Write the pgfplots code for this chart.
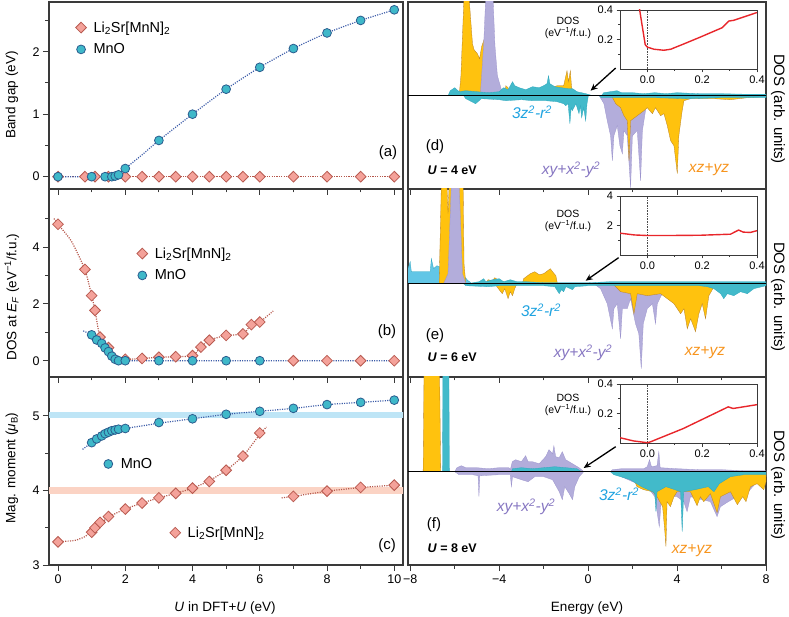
\documentclass[border=0pt]{standalone}
\usepackage{fontspec}
\setmainfont{Liberation Sans}
\usepackage{pgfplots}
\pgfplotsset{compat=1.18}
\usetikzlibrary{arrows.meta}

\definecolor{cFrame}{HTML}{3A3A3A}
\definecolor{cDia}{HTML}{F4A29A}
\definecolor{cDiaE}{HTML}{B85A50}
\definecolor{cCir}{HTML}{3FB8C9}
\definecolor{cCirE}{HTML}{2B5C8E}
\definecolor{cLi}{HTML}{B5574B}
\definecolor{cMn}{HTML}{3C5CA8}
\definecolor{cBandB}{HTML}{BEE5F6}
\definecolor{cBandR}{HTML}{FBD3C4}
\definecolor{cGold}{HTML}{FFC20E}
\definecolor{cGoldE}{HTML}{B7802A}
\definecolor{cLav}{HTML}{B3ADDB}
\definecolor{cLavE}{HTML}{9C94CC}
\definecolor{cTeal}{HTML}{42BACA}
\definecolor{cTealE}{HTML}{2FA6BD}
\definecolor{cSky}{HTML}{62C6E6}
\definecolor{tZ}{HTML}{1FA3E0}
\definecolor{tXY}{HTML}{8777C2}
\definecolor{tXZ}{HTML}{F7941D}
\definecolor{cRed}{HTML}{E8262B}

\newcommand{\lisr}{Li\textsubscript{2}Sr[MnN]\textsubscript{2}}

\pgfplotsset{
  panel/.style={
    scale only axis, anchor=south west,
    axis line style={line width=1.1pt, color=cFrame},
    tick align=outside, xtick pos=bottom, ytick pos=left,
    major tick length=6pt, minor tick length=3.5pt,
    tick style={line width=0.9pt, color=cFrame},
    tick label style={font=\fontsize{12.5}{14}\selectfont},
    /pgf/number format/assume math mode=true,
  },
  left panel/.style={panel, width=354pt, xmin=-0.268, xmax=10.26,
    xtick={0,2,...,10}, minor xtick={1,3,...,9},
    legend cell align=left,
    legend image code/.code={\path[draw=none, fill=none] (0pt,-1pt) rectangle (19pt,1pt); \draw[##1] plot coordinates {(8.5pt,0pt)};},
    legend style={draw=none, fill=none, font=\fontsize{14.5}{16}\selectfont,
      anchor=north west, row sep=6pt, inner sep=0pt},
  },
  right panel/.style={panel, width=358pt, xmin=-8.1, xmax=8,
    xtick={-8,-4,0,4,8}, minor xtick={-6,-2,2,6}, ytick=\empty},
  inset/.style={scale only axis, anchor=south west, width=137pt, height=59pt,
    xmin=-0.1, xmax=0.4, ymin=0, xtick={0,0.2,0.4}, minor xtick={0.1,0.3},
    tick align=outside, xtick pos=bottom, ytick pos=left,
    axis line style={line width=0.8pt, color=cFrame},
    tick style={line width=0.7pt, color=cFrame},
    major tick length=3.5pt, minor tick length=2pt,
    tick label style={font=\fontsize{11}{12}\selectfont},
    /pgf/number format/assume math mode=true,
    xticklabel style={/pgf/number format/fixed, /pgf/number format/fixed zerofill, /pgf/number format/precision=1},
  },
  fitline/.style={line width=1.2pt, dash pattern=on 1.1pt off 1.3pt},
  dia/.style={only marks, mark=square*, mark size=3.8pt,
    mark options={rotate=45, fill=cDia, draw=cDiaE, line width=0.8pt}},
  cir/.style={only marks, mark=*, mark size=4.4pt,
    mark options={fill=cCir, draw=cCirE, line width=0.8pt}},
  gold/.style={fill=cGold, draw=cGoldE, line width=0.3pt},
  lav/.style={fill=cLav, draw=cLavE, line width=0.3pt},
  teal/.style={fill=cTeal, draw=cTealE, line width=0.3pt},
}

\begin{document}
\begin{tikzpicture}
\useasboundingbox (0pt,0pt) rectangle (789pt,616pt);

% ---------- (a) band gap
\begin{axis}[left panel, at={(49pt,427pt)}, height=187pt,
  ymin=-0.197, ymax=2.795, ytick={0,1,2}, minor ytick={0.5,1.5,2.5},
  xticklabels={}, legend style={at={(0.066,0.907)}}]
\addplot[cLi, fitline, forget plot] coordinates {(0,0) (10,0)};
\addplot[cMn, fitline, smooth, tension=0.4, forget plot] coordinates {(0,0) (1,0) (1.5,0) (1.7,0.01) (1.8,0.035) (2,0.13) (2.5,0.35) (3,0.58) (4,1.0) (5,1.4) (6,1.75) (7,2.05) (8,2.3) (9,2.5) (10,2.67)};
\addplot[dia] coordinates {(0,0) (0.8,0) (1.1,0) (1.5,0) (2,0) (2.5,0) (3,0) (3.5,0) (4,0) (4.5,0) (5,0) (5.5,0) (6,0) (7,0) (8,0) (9,0) (10,0)};
\addlegendentry{\lisr}
\addplot[cir] coordinates {(0,0) (1,0) (1.4,0) (1.6,0) (1.7,0.01) (1.8,0.03) (2,0.13) (3,0.58) (4,1.0) (5,1.4) (6,1.75) (7,2.05) (8,2.3) (9,2.5) (10,2.67)};
\addlegendentry{MnO}
\end{axis}

% ---------- (b) DOS at E_F
\begin{axis}[left panel, at={(49pt,239pt)}, height=188pt,
  ymin=-0.573, ymax=6.04, ytick={0,2,4}, minor ytick={1,3,5},
  xticklabels={}, legend style={at={(0.239,0.70)}}]
\addplot[cMn, fitline, smooth, tension=0.4, forget plot] coordinates {(0.75,1.05) (1,0.91) (1.15,0.73) (1.3,0.6) (1.45,0.42) (1.55,0.28) (1.65,0.12) (1.75,0.03) (1.9,0) (3,0) (5,0) (7,0) (10,0)};
\addplot[cLi, fitline, smooth, tension=0.4, forget plot] coordinates {(-0.12,5.0) (0,4.8) (0.4,4.2) (0.8,3.2) (1,2.3) (1.1,1.77) (1.25,0.83) (1.5,0.46) (1.75,0.18) (2,0.05) (2.5,0.08) (3,0.12) (3.5,0.14) (4,0.18) (4.25,0.48) (4.5,0.72) (5,0.89) (5.5,0.94) (5.75,1.27) (6,1.36) (6.4,1.75)};
\addplot[dia] coordinates {(0,4.8) (0.8,3.21) (1,2.29) (1.1,1.77) (1.25,0.83) (1.5,0.46) (2,0.05) (2.5,0.08) (3,0.12) (3.5,0.14) (4,0.18) (4.25,0.48) (4.5,0.72) (5,0.89) (5.5,0.94) (5.75,1.27) (6,1.36) (7,0) (8,0) (9,0) (10,0)};
\addlegendentry{\lisr}
\addplot[cir] coordinates {(1,0.91) (1.15,0.73) (1.3,0.61) (1.4,0.45) (1.5,0.32) (1.6,0.16) (1.7,0.05) (1.8,0) (2,0) (3,0) (4,0) (5,0) (6,0)};
\addlegendentry{MnO}
\end{axis}

% ---------- (c) magnetic moment
\begin{axis}[left panel, at={(49pt,51pt)}, height=188pt,
  ymin=3, ymax=5.52, ytick={3,4,5}, minor ytick={3.5,4.5},
  legend style={at={(0.143,0.58)}}]
\addplot[fill=cBandB, draw=none, forget plot] coordinates {(-0.3,4.965) (10.3,4.965) (10.3,5.055) (-0.3,5.055)} -- cycle;
\addplot[fill=cBandR, draw=none, forget plot] coordinates {(-0.3,3.955) (10.3,3.955) (10.3,4.045) (-0.3,4.045)} -- cycle;
\addplot[cMn, fitline, smooth, tension=0.4, forget plot] coordinates {(0.73,4.55) (1,4.64) (1.2,4.71) (1.5,4.78) (1.8,4.82) (2,4.83) (3,4.9) (4,4.96) (5,5.02) (6,5.06) (7,5.1) (8,5.15) (9,5.18) (10,5.21)};
\addplot[cLi, fitline, smooth, tension=0.4, forget plot] coordinates {(0,3.31) (0.5,3.33) (0.8,3.38) (1,3.45) (1.5,3.64) (2,3.75) (2.5,3.83) (3,3.9) (3.5,3.96) (4,4.03) (4.5,4.13) (5,4.27) (5.5,4.46) (6,4.75) (6.2,4.85)};
\addplot[cLi, fitline, forget plot] coordinates {(6.65,3.9) (7,3.92) (8,3.99) (9,4.04) (10,4.07)};
\addplot[dia, forget plot] coordinates {(0,3.31) (1,3.44) (1.1,3.5) (1.25,3.57) (1.5,3.65) (2,3.75) (2.5,3.83) (3,3.9) (3.5,3.96) (4,4.03) (4.5,4.12) (5,4.27) (5.5,4.46) (6,4.77) (7,3.92) (8,3.99) (9,4.04) (10,4.07)};
\addplot[cir] coordinates {(1,4.64) (1.15,4.69) (1.3,4.73) (1.4,4.76) (1.5,4.78) (1.6,4.8) (1.7,4.81) (1.8,4.82) (2,4.83) (3,4.91) (4,4.96) (5,5.02) (6,5.06) (7,5.1) (8,5.15) (9,5.18) (10,5.21)};
\addlegendentry{MnO}
\end{axis}
\begin{axis}[left panel, at={(49pt,51pt)}, height=188pt, ymin=3, ymax=5.52,
  hide axis, legend style={at={(0.332,0.215)}}]
\addlegendimage{dia}
\addlegendentry{\lisr}
\end{axis}

% ---------- (d) U = 4 eV
\begin{axis}[right panel, at={(408pt,427pt)}, height=187pt, ymin=-93.3, ymax=93.7, xticklabels={}]
\addplot[lav] coordinates {(0.5,0) (0.71,-8) (0.86,-25) (1.01,-40) (1.09,-65) (1.16,-40) (1.31,-30) (1.43,-50) (1.54,-58) (1.61,-35) (1.76,-40) (1.91,-92) (1.99,-40) (2.21,-35) (2.36,-85) (2.44,-35) (2.58,-15) (2.7,-3) (3.0,0)} -- cycle;
\addplot[gold] coordinates {(1.05,0) (1.24,-8) (1.46,-12) (1.61,-20) (1.76,-25) (1.84,-65) (1.91,-25) (2.21,-20) (2.51,-15) (2.66,-12) (2.89,-18) (3.03,-12) (3.26,-20) (3.41,-18) (3.56,-30) (3.71,-45) (3.86,-50) (4.01,-78) (4.08,-40) (4.23,-15) (4.31,-5) (4.61,-3) (5.66,-3) (6.4,-4) (7.16,-2) (8,-1) (8,0)} -- cycle;
\addplot[gold] coordinates {(-5.8,0) (-5.72,20) (-5.65,60) (-5.58,100) (-5.36,100) (-5.28,76) (-5.2,52) (-5.13,46) (-4.98,42) (-4.88,37) (-4.79,49) (-4.68,56) (-4.6,58) (-4.5,20) (-4.4,0) (-3.75,0) (-3.7,10) (-3.6,8) (-3.53,0) (-1.65,0) (-1.6,8) (-1.4,10) (-1.1,10) (-0.95,25) (-0.88,14) (-0.8,25) (-0.75,10) (-0.68,0)} -- cycle;
\addplot[lav] coordinates {(-4.85,0) (-4.7,50) (-4.6,100) (-4.28,100) (-4.19,50) (-4.08,20) (-3.86,3) (-3.7,0)} -- cycle;
\addplot[teal] coordinates {(-5.6,0) (-5.5,-3) (-5.06,-8) (-4.8,-3) (-4.0,-4) (-3.71,-5) (-3.0,-4) (-2.5,-5) (-1.91,-5) (-1.4,-6) (-1.1,-8) (-1.01,-10) (-0.9,-8) (-0.82,-28) (-0.76,-12) (-0.71,-15) (-0.55,-8) (-0.41,-18) (-0.35,-10) (-0.29,-22) (-0.2,-12) (-0.11,-25) (-0.05,-8) (0.01,0) (0.5,0) (0.6,-2) (1.0,-2) (2,-2) (3,-2) (4.5,-3) (6,-2) (8,-2) (8,0)} -- cycle;
\addplot[teal] coordinates {(-6.3,0) (-6.2,5) (-6.0,8) (-5.8,4) (-5.5,5) (-5.0,4) (-4.5,3) (-4.0,4) (-3.8,8) (-3.6,6) (-3.4,14) (-3.3,10) (-3.1,8) (-2.8,6) (-2.5,9) (-2.2,8) (-2.0,10) (-1.85,12) (-1.78,20) (-1.72,12) (-1.5,9) (-1.2,8) (-0.9,7) (-0.7,7) (-0.5,4) (-0.3,3) (-0.1,2) (0.2,0) (0.6,0) (0.7,3) (1.0,4) (1.3,5) (1.5,3) (2.0,3) (2.5,2) (3.0,3) (3.5,2) (4.0,3) (5.0,2) (6.0,2) (7.0,1.5) (8.0,1.5) (8,0)} -- cycle;
\addplot[black, line width=0.8pt] coordinates {(-8.1,0) (8,0)};
\draw[-{Stealth[length=7pt,width=6pt]}, line width=1.3pt] (axis cs:1.24,27.7) -- (axis cs:0.11,5);
\end{axis}

% ---------- (e) U = 6 eV
\begin{axis}[right panel, at={(408pt,239pt)}, height=188pt, ymin=-93.3, ymax=94.7, xticklabels={}]
\addplot[lav] coordinates {(0.26,0) (0.56,-5) (0.86,-20) (1.09,-45) (1.16,-25) (1.31,-20) (1.46,-55) (1.54,-25) (1.76,-25) (1.91,-15) (2.13,-40) (2.28,-50) (2.39,-85) (2.48,-40) (2.66,-25) (2.89,-20) (3.03,-40) (3.11,-20) (3.33,-10) (3.56,0)} -- cycle;
\addplot[gold] coordinates {(-4.2,0) (-4.0,-6) (-3.86,-10) (-3.75,-5) (-3.6,-15) (-3.5,-8) (-3.4,-12) (-3.3,-5) (-3.2,0) (1.1,0) (1.46,-8) (1.91,-10) (2.06,-30) (2.21,-10) (2.66,-12) (3.26,-10) (3.56,-15) (3.86,-20) (4.16,-30) (4.31,-25) (4.46,-45) (4.61,-35) (4.83,-48) (4.98,-30) (5.13,-20) (5.28,-35) (5.43,-12) (5.66,-3) (6.4,-2) (7.16,-2) (8,0)} -- cycle;
\addplot[fill=cSky, draw=cTealE, line width=0.3pt] coordinates {(-8.1,0) (-8.1,15) (-8.0,22) (-7.95,12) (-7.1,12) (-7.05,25) (-6.95,15) (-6.8,18) (-6.6,16) (-6.3,14) (-6.0,10) (-5.6,8) (-5.4,3) (-5.2,0)} -- cycle;
\addplot[gold] coordinates {(-6.7,0) (-6.6,100) (-6.35,100) (-6.3,70) (-6.25,100) (-5.62,100) (-5.58,20) (-5.5,0) (-4.6,0) (-4.5,4) (-4.3,3) (-4.2,6) (-4.0,3) (-3.5,0) (-2.96,0) (-2.9,5) (-2.6,10) (-2.4,12) (-2.2,9) (-2.0,10) (-1.7,15) (-1.6,12) (-1.45,8) (-1.38,0)} -- cycle;
\addplot[lav] coordinates {(-6.5,0) (-6.3,10) (-6.15,100) (-5.8,100) (-5.65,10) (-5.5,0)} -- cycle;
\addplot[teal] coordinates {(-5.6,0) (-5.5,-2) (-4.5,-3) (-4.0,-2) (-3,-2) (-2,-2) (-1.5,-3) (-1.3,-10) (-1.2,-6) (-1.1,-8) (-1.0,-3) (-0.7,-6) (-0.6,-3) (0,-2) (1,-2) (3,-2) (5,-2) (5.36,-3) (5.66,-5) (5.96,-10) (6.1,-15) (6.26,-10) (6.55,-12) (6.85,-8) (7.16,-10) (7.45,-5) (8,-2) (8,0)} -- cycle;
\addplot[teal] coordinates {(-5.2,0) (-5.2,1) (-4.9,2) (-4.7,5) (-4.6,2) (-4.3,4) (-4.0,5) (-3.8,2) (-3.5,4) (-3.2,2) (-2.8,2) (-2,1) (-1,1) (0,1) (1,2) (2,2) (3,2) (4,2) (5,2) (6,2) (7,2) (8,2) (8,0)} -- cycle;
\addplot[black, line width=0.8pt] coordinates {(-8.1,0) (8,0)};
\draw[-{Stealth[length=7pt,width=6pt]}, line width=1.3pt] (axis cs:1.37,26) -- (axis cs:-0.11,3);
\end{axis}

% ---------- (f) U = 8 eV
\begin{axis}[right panel, at={(408pt,51pt)}, height=188pt, ymin=-93.3, ymax=94.7,
  xticklabels={−8,−4,0,4,8}]
\addplot[lav] coordinates {(-6.0,0) (-5.8,-3) (-5.2,-3) (-4.95,-4) (-4.91,-25) (-4.87,-4) (-4.0,-3) (-3.5,-3) (-3.45,-15) (-3.4,-5) (-3.0,-8) (-2.7,-10) (-2.4,-5) (-2.0,-5) (-1.6,-8) (-1.3,-20) (-1.16,-28) (-1.05,-15) (-0.85,-22) (-0.7,-28) (-0.6,-15) (-0.4,-5) (-0.2,0) (1.09,0) (1.5,-5) (2.0,-10) (2.66,-15) (3.0,-25) (3.2,-55) (3.3,-25) (4.0,-25) (4.3,-30) (4.45,-40) (4.6,-25) (5.5,-30) (5.8,-45) (5.95,-35) (6.3,-30) (6.7,-25) (7.2,-20) (7.6,-10) (8.0,-5) (8,0)} -- cycle;
\addplot[gold] coordinates {(1.9,0) (2.06,-8) (2.2,-15) (2.5,-18) (2.9,-20) (3.1,-25) (3.35,-35) (3.45,-60) (3.5,-75) (3.55,-30) (3.7,-35) (3.86,-25) (4.0,-20) (4.6,-20) (4.9,-34) (5.05,-25) (5.2,-30) (5.5,-22) (5.8,-41) (5.95,-25) (6.4,-20) (6.71,-33) (6.95,-25) (7.1,-30) (7.3,-15) (7.6,-12) (7.9,-18) (8.0,-10) (8,0)} -- cycle;
\addplot[gold] coordinates {(-7.42,0) (-7.38,100) (-6.68,100) (-6.63,0)} -- cycle;
\addplot[lav] coordinates {(-6.0,0) (-5.9,4) (-5.7,6) (-5.5,4) (-5.0,4) (-4.5,3) (-4.0,4) (-3.56,4) (-3.5,2) (-3.41,10) (-3.26,12) (-3.0,10) (-2.81,16) (-2.7,10) (-2.51,10) (-2.2,8) (-1.91,15) (-1.76,22) (-1.6,18) (-1.54,26) (-1.46,15) (-1.3,14) (-1.16,20) (-1.01,12) (-0.71,8) (-0.41,4) (-0.19,0) (1.0,0) (1.09,2) (1.5,3) (2.0,3) (2.5,3) (2.66,5) (2.76,12) (2.85,5) (3.1,6) (3.18,20) (3.24,4) (4,3) (5,2) (6,2) (7,1) (8,1) (8,0)} -- cycle;
\addplot[teal] coordinates {(1.0,0) (1.16,-3) (1.46,-5) (1.9,-8) (2.4,-15) (2.9,-20) (3.0,-22) (3.05,-40) (3.1,-20) (3.5,-15) (3.9,-18) (4.16,-20) (4.23,-60) (4.3,-20) (4.8,-18) (5.4,-15) (5.66,-20) (5.9,-12) (6.4,-5) (7,-3) (8,-3) (8,0)} -- cycle;
\addplot[teal] coordinates {(-6.55,0) (-6.53,100) (-6.26,100) (-6.24,0) (-3.45,0) (-3.4,3) (-3,4) (-2.5,3) (-2,4) (-1.5,5) (-1,4) (-0.5,3) (-0.3,0)} -- cycle;
\addplot[black, line width=0.8pt] coordinates {(-8.1,0) (8,0)};
\draw[-{Stealth[length=7pt,width=6pt]}, line width=1.3pt] (axis cs:1.24,25) -- (axis cs:-0.2,3.7);
\end{axis}

% ---------- insets
\begin{axis}[inset, at={(620pt,547pt)}, ymax=0.4, ytick={0.2,0.4}, minor ytick={0.1,0.3},
  yticklabel style={/pgf/number format/fixed, /pgf/number format/fixed zerofill, /pgf/number format/precision=1}]
\addplot[black!70, densely dotted, line width=0.6pt] coordinates {(0,0) (0,0.4)};
\addplot[cRed, line width=1.4pt] coordinates {(-0.03,0.42) (-0.008,0.165) (0,0.148) (0.024,0.134) (0.06,0.127) (0.085,0.134) (0.133,0.17) (0.194,0.217) (0.273,0.28) (0.297,0.325) (0.315,0.33) (0.4,0.383)};
\end{axis}
\begin{axis}[inset, at={(620pt,361pt)}, ymax=4, ytick={2,4}, minor ytick={1,3}]
\addplot[black!70, densely dotted, line width=0.6pt] coordinates {(0,0) (0,4)};
\addplot[cRed, line width=1.4pt] coordinates {(-0.1,1.48) (-0.048,1.36) (0,1.32) (0.073,1.32) (0.194,1.34) (0.303,1.41) (0.333,1.69) (0.35,1.55) (0.376,1.53) (0.4,1.65)};
\end{axis}
\begin{axis}[inset, at={(620pt,173pt)}, ymax=0.4, ytick={0.2,0.4}, minor ytick={0.1,0.3},
  yticklabel style={/pgf/number format/fixed, /pgf/number format/fixed zerofill, /pgf/number format/precision=1}]
\addplot[black!70, densely dotted, line width=0.6pt] coordinates {(0,0) (0,0.4)};
\addplot[cRed, line width=1.4pt] coordinates {(-0.1,0.036) (-0.051,0.014) (0,0.002) (0.01,0.007) (0.131,0.098) (0.295,0.245) (0.313,0.234) (0.4,0.26)};
\end{axis}

% ---------- texts
\begin{scope}[every node/.style={font=\fontsize{10.5}{12}\selectfont, align=center}]
\node at (568pt,588.5pt) {DOS\\(eV\textsuperscript{−1}/f.u.)};
\node at (568pt,395.5pt) {DOS\\(eV\textsuperscript{−1}/f.u.)};
\node at (568pt,211.5pt) {DOS\\(eV\textsuperscript{−1}/f.u.)};
\end{scope}

\begin{scope}[every node/.style={font=\fontsize{13.5}{15}\selectfont}]
\node[rotate=90] at (12pt,521pt) {Band gap (eV)};
\node[rotate=90] at (12pt,319pt) {DOS at \textit{E}\textsubscript{\textit{F}} (eV\textsuperscript{−1}/f.u.)};
\node[rotate=90] at (12pt,148pt) {Mag. moment (\textit{μ}\textsubscript{B})};
\node at (225pt,8pt) {\textit{U} in DFT+\textit{U} (eV)};
\node at (587pt,8pt) {Energy (eV)};
\end{scope}
\begin{scope}[every node/.style={font=\fontsize{15}{17}\selectfont, rotate=-90}]
\node at (778pt,507pt) {DOS (arb. units)};
\node at (778pt,319pt) {DOS (arb. units)};
\node at (778pt,131pt) {DOS (arb. units)};
\end{scope}

\begin{scope}[every node/.style={font=\fontsize{15}{17}\selectfont}]
\node at (388pt,463pt) {(a)};
\node at (387pt,284pt) {(b)};
\node at (387pt,70pt) {(c)};
\node at (435pt,469pt) {(d)};
\node at (435pt,280pt) {(e)};
\node at (434pt,91pt) {(f)};
\end{scope}

\begin{scope}[every node/.style={font=\fontsize{12.5}{14}\selectfont\bfseries, anchor=west}]
\node at (424pt,446pt) {\textit{U} = 4 eV};
\node at (424pt,259pt) {\textit{U} = 6 eV};
\node at (424pt,68pt) {\textit{U} = 8 eV};
\end{scope}

\begin{scope}[every node/.style={font=\fontsize{15.5}{17}\selectfont\itshape}]
\node[text=tZ] at (532pt,504pt) {3z\textsuperscript{2}-r\textsuperscript{2}};
\node[text=tXY] at (571pt,446pt) {xy+x\textsuperscript{2}-y\textsuperscript{2}};
\node[text=tXZ] at (709pt,446pt) {xz+yz};
\node[text=tZ] at (541pt,306pt) {3z\textsuperscript{2}-r\textsuperscript{2}};
\node[text=tXY] at (583pt,263pt) {xy+x\textsuperscript{2}-y\textsuperscript{2}};
\node[text=tXZ] at (705pt,263pt) {xz+yz};
\node[text=tXY] at (526pt,109pt) {xy+x\textsuperscript{2}-y\textsuperscript{2}};
\node[text=tZ] at (619pt,122pt) {3z\textsuperscript{2}-r\textsuperscript{2}};
\node[text=tXZ] at (692pt,65pt) {xz+yz};
\end{scope}
\end{tikzpicture}
\end{document}
